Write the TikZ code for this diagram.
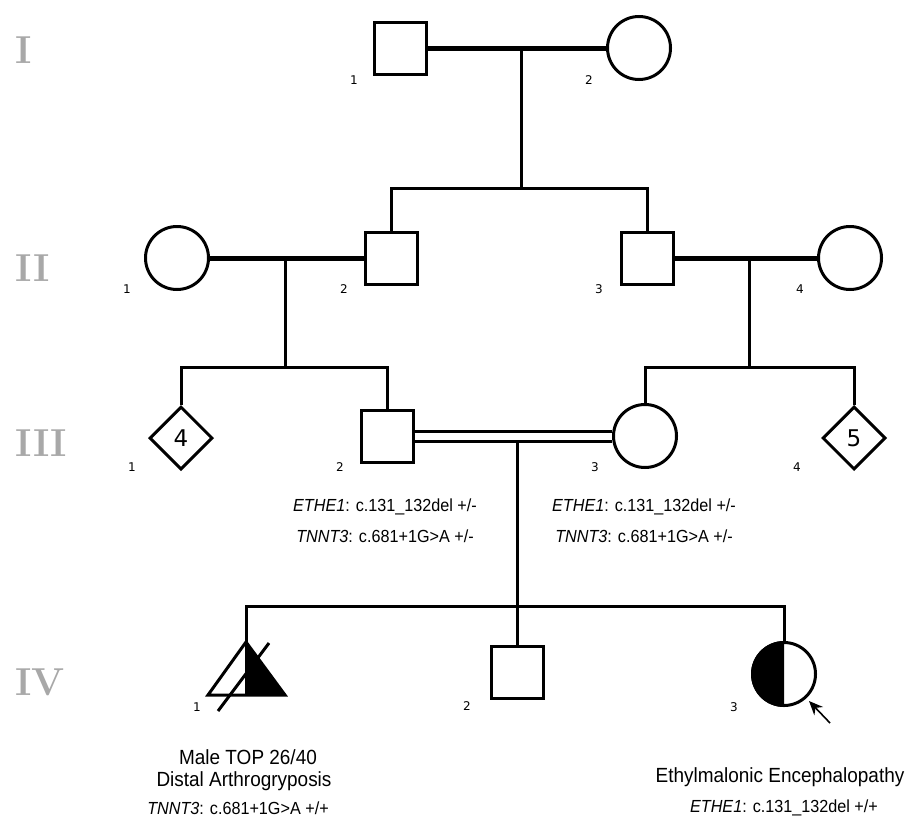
\documentclass[tikz,border=0pt]{standalone}
\usepackage{fontspec}
\usepackage{graphicx}
\usepackage{xcolor}
\usepackage{tikz}
\usetikzlibrary{arrows.meta,shapes.geometric}

\newfontfamily\arialfont{Liberation Sans}
\newfontfamily\numfont{DejaVu Sans}
\definecolor{gengray}{HTML}{A8A8A8}
\newcommand{\cond}[1]{\scalebox{0.925}[1]{#1}}

\tikzset{
    male/.style={draw, line width=3pt, minimum size=52pt, inner sep=0pt},
    female/.style={draw, circle, line width=3pt, minimum size=63pt, inner sep=0pt},
    sexunknown/.style={draw, diamond, line width=3pt, minimum size=63pt, inner sep=0pt,
        font=\numfont\fontsize{23}{23}\selectfont},
    num/.style={font=\numfont\fontsize{12}{14}\selectfont},
    gen/.style={anchor=west, text=gengray, font=\bfseries\fontsize{39}{39}\selectfont},
    geno/.style={font=\arialfont\fontsize{17.5}{20}\selectfont},
    pheno/.style={font=\arialfont\fontsize{20.5}{24}\selectfont},
    mate/.style={line width=5pt},
    line/.style={line width=3pt},
}

\begin{document}
\begin{tikzpicture}[x=1pt, y=-1pt]
        \useasboundingbox (0,0) rectangle (909,819);

        % generations
        \node[gen] (gI) at (12,50) {I};
        \node[gen] (gII) at (12,268) {II};
        \node[gen] (gIII) at (12,443) {III};
        \node[gen] (gIV) at (12,682) {IV};

        % I
        \node[male] (I1) at (400,48) {};
        \node[female] (I2) at (639,48) {};
        \node[num] (nI1) at (354,80) {1};
        \node[num] (nI2) at (589,80) {2};
        \coordinate (m1) at (521,48);
        \coordinate (s1) at (521,188);

        % II
        \node[female] (II1) at (177,258) {};
        \node[male] (II2) at (391,258) {};
        \node[male] (II3) at (647,258) {};
        \node[female] (II4) at (850,258) {};
        \node[num] (nII1) at (127,289) {1};
        \node[num] (nII2) at (344,289) {2};
        \node[num] (nII3) at (599,289) {3};
        \node[num] (nII4) at (800,289) {4};
        \coordinate (m2a) at (285,258);
        \coordinate (s2a) at (285,367);
        \coordinate (m2b) at (749,258);
        \coordinate (s2b) at (749,367);

        % III
        \node[sexunknown] (III1) at (181,438) {4};
        \node[male] (III2) at (387,436) {};
        \node[female] (III3) at (645,436) {};
        \node[sexunknown] (III4) at (854,438) {5};
        \node[num] (nIII1) at (132,467) {1};
        \node[num] (nIII2) at (340,467) {2};
        \node[num] (nIII3) at (595,467) {3};
        \node[num] (nIII4) at (797,467) {4};
        \coordinate (m3) at (517,441);
        \coordinate (s3) at (517,606);

        \node[geno] (gtIII2a) at (385,507) {\cond{\textit{ETHE1}: c.131\_132del +/-}};
        \node[geno] (gtIII2b) at (385,536) {\cond{\textit{TNNT3}: c.681+1G>A +/-}};
        \node[geno] (gtIII3a) at (644,507) {\cond{\textit{ETHE1}: c.131\_132del +/-}};
        \node[geno] (gtIII3b) at (644,536) {\cond{\textit{TNNT3}: c.681+1G>A +/-}};

        % IV
        \coordinate (t1) at (246,642);
        \coordinate (t2) at (208,695);
        \coordinate (t3) at (285,695);
        \coordinate (t4) at (246,695);
        \fill[black] (t1) -- (t3) -- (t4) -- cycle;
        \draw[line] (t1) -- (t2) -- (t3) -- cycle;
        \draw[line] (t1) -- (t4);
        \coordinate (d1) at (218,711);
        \coordinate (d2) at (269,643);
        \draw[line] (d1) -- (d2);

        \node[male] (IV2) at (517,672) {};

        \begin{scope}
            \clip (740,630) rectangle (784,720);
            \fill[black] (784,674) circle[radius=33];
        \end{scope}
        \node[female] (IV3) at (784,674) {};
        \coordinate (pb) at (830,723);
        \coordinate (pa) at (809,701);
        \draw[line width=1.6pt, -{Stealth[length=14pt, width=12pt]}] (pb) -- (pa);

        \node[num] (nIV1) at (197,707) {1};
        \node[num] (nIV2) at (467,706) {2};
        \node[num] (nIV3) at (734,707) {3};

        \node[pheno] (phIV1a) at (248,757) {\cond{Male TOP 26/40}};
        \node[pheno] (phIV1b) at (244,781) {\cond{Distal Arthrogryposis}};
        \node[geno] (gtIV1) at (238,808) {\cond{\textit{TNNT3}: c.681+1G>A +/+}};
        \node[pheno] (phIV3) at (780,777) {\cond{Ethylmalonic Encephalopathy}};
        \node[geno] (gtIV3) at (784,808) {\cond{\textit{ETHE1}: c.131\_132del +/+}};

        % lines
        \draw[mate] (I1) -- (I2);
        \draw[line] (m1) -- (s1);
        \draw[line] (II2.north) -- (II2.north |- s1) -- (II3.north |- s1) -- (II3.north);

        \draw[mate] (II1) -- (II2);
        \draw[mate] (II3) -- (II4);
        \draw[line] (m2a) -- (s2a);
        \draw[line] (m2b) -- (s2b);
        \draw[line] (III1.north) -- (III1.north |- s2a) -- (III2.north |- s2a) -- (III2.north);
        \draw[line] (III3.north) -- (III3.north |- s2b) -- (III4.north |- s2b) -- (III4.north);

        \draw[line, double, double distance=7pt] (III2) -- (III3); % consanguineous
        \draw[line] (m3) -- (s3);
        \draw[line] (t1) -- (t1 |- s3) -- (IV3.north |- s3) -- (IV3.north);
        \draw[line] (s3) -- (IV2.north);
    \end{tikzpicture}
\end{document}
